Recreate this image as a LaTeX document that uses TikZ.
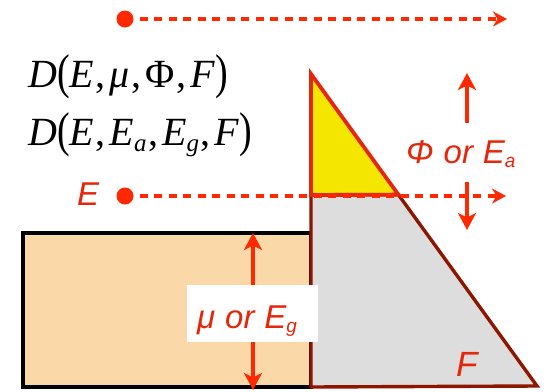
\documentclass[tikz,border=0pt]{standalone}
\usepackage{fontspec}
\usepackage{graphicx}
\setmainfont{Liberation Serif}
\newfontfamily\lsans{Liberation Sans}
\usetikzlibrary{arrows.meta,calc}
\definecolor{lred}{RGB}{255,40,0}
\definecolor{tred}{RGB}{230,38,10}
\definecolor{dred}{RGB}{140,22,0}
\definecolor{boxor}{RGB}{251,216,168}
\definecolor{ygold}{RGB}{245,230,0}
\definecolor{lgray}{RGB}{221,221,221}
\newcommand\tallparen[1]{\raisebox{-0.03em}{\scalebox{0.95}[1.22]{#1}}}
\newcommand\sublab[1]{\raisebox{-4pt}{\fontsize{19}{19}\selectfont #1}}
\newcommand\subform[1]{\raisebox{-6pt}{\fontsize{25}{25}\selectfont\itshape #1}}
\newcommand\cm{\hspace{0.04em},\hspace{0.1em}}
\begin{document}
\begin{tikzpicture}[x=1pt,y=-1pt,
 dot/.style={circle,fill=lred,inner sep=0pt,minimum size=17pt},
 dashline/.style={draw=lred,line width=3.4pt,dash pattern=on 8pt off 6.5pt,-{Stealth[length=14pt,width=15pt,inset=4.5pt]}},
 solidarrow/.style={draw=lred,line width=3.2pt,-{Stealth[length=17pt,width=18pt,inset=4.5pt]}},
 lab/.style={text=tred,font=\lsans\itshape\fontsize{33}{33}\selectfont,inner sep=0pt,anchor=base west},
 formula/.style={font=\fontsize{40}{44}\selectfont,inner sep=0pt,anchor=base west}]
\useasboundingbox (0,0) rectangle (548,391);
% orange block
\draw[fill=boxor,draw=black,line width=3.4pt] (23,233) rectangle (311,387);
% gray trapezoid + yellow triangle
\coordinate (A) at (311,74);
\coordinate (BL) at (311,387);
\coordinate (BR) at (537,386);
\coordinate (ML) at (311,195);
\coordinate (MR) at ($(A)!0.3866!(BR)$);
\draw[fill=lgray,draw=dred,line width=3.4pt,line join=miter] (ML) -- (MR) -- (BR) -- (BL) -- cycle;
\draw[fill=ygold,draw=tred,line width=3.8pt,line join=miter] (A) -- (MR) -- (ML) -- cycle;
% formulas
\node[formula] (f1) at (28,87) {\textit{D}\tallparen{(}\textit{E}\cm\textit{μ}\cm Φ\cm\textit{F}\tallparen{)}};
\node[formula] (f2) at (28,145) {\textit{D}\tallparen{(}\textit{E}\cm\textit{E}\subform{a}\cm\textit{E}\subform{g}\cm\textit{F}\tallparen{)}};
% dashed rays
\node[dot] (d1) at (125,19) {};
\coordinate (t1) at (507,19);
\draw[dashline,shorten <=6pt] (d1) -- (t1);
\node[dot] (d2) at (125,196) {};
\coordinate (t2) at (506,196);
\draw[dashline,shorten <=6pt] (d2) -- (t2);
\node[lab] (elab) at (77,205) {E};
% Phi / Ea arrows
\coordinate (pu0) at (467,123);
\coordinate (pu1) at (467,73);
\coordinate (pd0) at (467,182);
\coordinate (pd1) at (467,230);
\draw[solidarrow] (pu0) -- (pu1);
\draw[solidarrow] (pd0) -- (pd1);
\node[lab] (philab) at (406,163) {Φ\hspace{0.3em}or\hspace{0.3em}E\sublab{a}};
% mu / Eg arrow
\coordinate (m0) at (253,233);
\coordinate (m1) at (253,390);
\draw[solidarrow,{Stealth[length=17pt,width=18pt,inset=4.5pt]}-{Stealth[length=17pt,width=18pt,inset=4.5pt]}] (m0) -- (m1);
\node[fill=white,inner sep=0pt,minimum width=131pt,minimum height=57pt] (mubox) at (252.5,313.5) {};
\node[lab] (mulab) at (197,328) {μ\hspace{0.3em}or\hspace{0.3em}E\sublab{g}};
% F label
\node[lab,font=\lsans\itshape\fontsize{35}{35}\selectfont] (flab) at (456,376) {F};
\end{tikzpicture}
\end{document}
